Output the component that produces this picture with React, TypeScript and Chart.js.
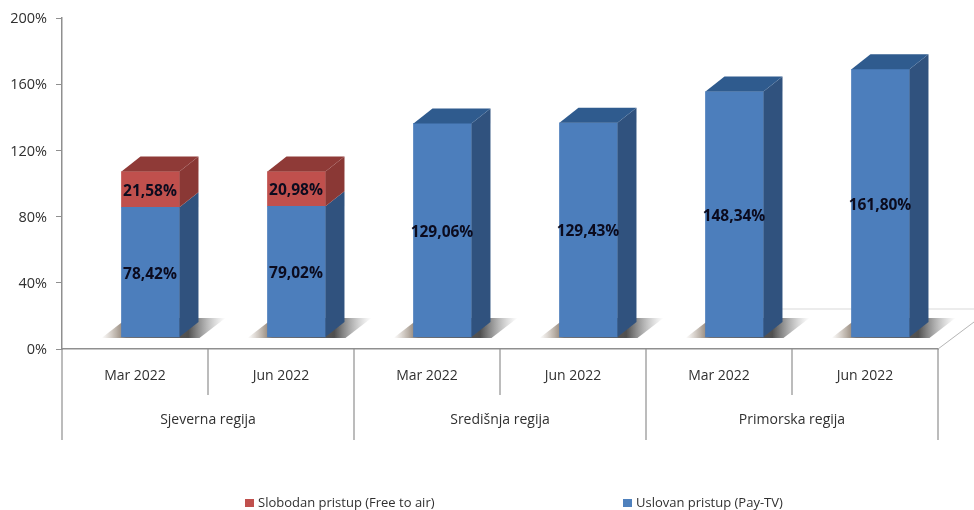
import React, { useEffect, useRef } from "react";
import { Chart, registerables } from "chart.js";

Chart.register(...registerables);

const months = ["Mar 2022", "Jun 2022", "Mar 2022", "Jun 2022", "Mar 2022", "Jun 2022"];
const regions = ["Sjeverna regija", "Središnja regija", "Primorska regija"];
const payTv = [78.42, 79.02, 129.06, 129.43, 148.34, 161.8];
const freeToAir = [21.58, 20.98, null, null, null, null];
const yTicks = [0, 40, 80, 120, 160, 200];
const payLabel = "Uslovan pristup (Pay-TV)";
const freeLabel = "Slobodan pristup (Free to air)";

const AXIS = "#8f8f8f";
const TEXT = "#303030";
const FONT = '"Open Sans", sans-serif';
const DX = 19;
const DY = -15;

const shades: Record<string, { top: string; side: string }> = {
  blue: { top: "#2f5b8e", side: "#30527e" },
  red: { top: "#8f3a37", side: "#8a3835" },
};

function poly(ctx: CanvasRenderingContext2D, pts: number[][], fill: string | CanvasGradient) {
  ctx.beginPath();
  pts.forEach(([x, y], i) => (i ? ctx.lineTo(x, y) : ctx.moveTo(x, y)));
  ctx.closePath();
  ctx.fillStyle = fill;
  ctx.fill();
}

const frame = {
  id: "frame",
  beforeDatasetsDraw(chart: any) {
    const { ctx, chartArea: a, scales } = chart;
    ctx.save();
    // floor of the 3D box
    ctx.strokeStyle = "#d9d9d9";
    ctx.lineWidth = 1;
    ctx.beginPath();
    ctx.moveTo(a.right - 160, a.bottom - 40);
    ctx.lineTo(974, a.bottom - 40);
    ctx.stroke();
    ctx.strokeStyle = "#b5b5b5";
    ctx.beginPath();
    ctx.moveTo(a.right, a.bottom);
    ctx.lineTo(974, a.bottom - 27);
    ctx.stroke();
    // floor shadows of the bars
    const meta = chart.getDatasetMeta(0);
    meta.data.forEach((bar: any) => {
      const l = bar.x - bar.width / 2;
      const r = bar.x + bar.width / 2;
      const b = bar.base;
      const g = ctx.createLinearGradient(l - 20, 0, r + 46, 0);
      g.addColorStop(0, "rgba(150,130,110,0)");
      g.addColorStop(0.2, "rgba(110,95,80,0.9)");
      g.addColorStop(0.7, "rgba(70,70,70,0.95)");
      g.addColorStop(1, "rgba(140,140,140,0)");
      poly(ctx, [[l - 20, b + 1], [l + 6, b - 19], [r + 46, b - 19], [r + 20, b + 1]], g);
    });
    // separators of the multi-level category axis
    const x = scales.x;
    const step = x.getPixelForValue(1) - x.getPixelForValue(0);
    ctx.strokeStyle = AXIS;
    ctx.lineWidth = 1.2;
    months.forEach((_, i) => {
      const px = x.getPixelForValue(i) - step / 2;
      ctx.beginPath();
      ctx.moveTo(px, a.bottom);
      ctx.lineTo(px, a.bottom + (i % 2 === 0 ? 91 : 46));
      ctx.stroke();
    });
    const end = x.getPixelForValue(months.length - 1) + step / 2;
    ctx.beginPath();
    ctx.moveTo(end, a.bottom);
    ctx.lineTo(end, a.bottom + 91);
    ctx.stroke();
    // region level of the axis
    ctx.fillStyle = TEXT;
    ctx.font = `14px ${FONT}`;
    ctx.textAlign = "center";
    ctx.textBaseline = "middle";
    regions.forEach((name, i) => {
      const cx = (x.getPixelForValue(i * 2) + x.getPixelForValue(i * 2 + 1)) / 2;
      ctx.fillText(name, cx, a.bottom + 71);
    });
    ctx.restore();
  },
  afterDatasetsDraw(chart: any) {
    const { ctx } = chart;
    ctx.save();
    // sides and tops of the 3D bars
    const count = chart.data.datasets.length;
    for (let d = 0; d < count; d++) {
      const key = d === 0 ? "blue" : "red";
      chart.getDatasetMeta(d).data.forEach((bar: any, i: number) => {
        const val = (chart.data.datasets[d].data[i] as any).y;
        if (val == null) return;
        const l = bar.x - bar.width / 2;
        const r = bar.x + bar.width / 2;
        poly(ctx, [[r, bar.base], [r + DX, bar.base + DY], [r + DX, bar.y + DY], [r, bar.y]], shades[key].side);
        const upper = chart.data.datasets[1 - d]?.data[i]?.y;
        if (d === 1 || upper == null) {
          poly(ctx, [[l, bar.y], [l + DX, bar.y + DY], [r + DX, bar.y + DY], [r, bar.y]], shades[key].top);
        }
      });
    }
    // value labels
    ctx.font = `bold 15.5px ${FONT}`;
    ctx.fillStyle = "#0b0b1e";
    ctx.textAlign = "center";
    ctx.textBaseline = "middle";
    for (let d = 0; d < count; d++) {
      chart.getDatasetMeta(d).data.forEach((bar: any, i: number) => {
        const val = (chart.data.datasets[d].data[i] as any).y;
        if (val == null) return;
        const txt = val.toFixed(2).replace(".", ",") + "%";
        ctx.fillText(txt, bar.x - 0.5, (bar.y + bar.base) / 2 + 2);
      });
    }
    // legend
    ctx.font = `13px ${FONT}`;
    ctx.textAlign = "left";
    const items = [
      { text: freeLabel, color: "#c0504d", x: 245 },
      { text: payLabel, color: "#4f81bd", x: 623 },
    ];
    items.forEach((it) => {
      ctx.fillStyle = it.color;
      ctx.fillRect(it.x, 499, 9, 8);
      ctx.fillStyle = TEXT;
      ctx.fillText(it.text, it.x + 13, 503);
    });
    ctx.restore();
  },
};

export default function App() {
  const ref = useRef<HTMLCanvasElement>(null);
  useEffect(() => {
    const chart = new Chart(ref.current!, {
      type: "bar",
      data: {
        labels: months,
        datasets: [
          {
            label: payLabel,
            data: payTv.map((y, x) => ({ x, y })) as any,
            backgroundColor: "#4c7ebc",
            xAxisID: "xBars",
            yAxisID: "yBars",
            barThickness: 58,
          },
          {
            label: freeLabel,
            data: freeToAir.map((y, x) => ({ x, y })) as any,
            backgroundColor: "#c0504d",
            xAxisID: "xBars",
            yAxisID: "yBars",
            barThickness: 58,
          },
        ],
      },
      plugins: [frame],
      options: {
        responsive: false,
        animation: false,
        layout: { padding: { left: 0, top: 18, right: 36, bottom: 0 } },
        plugins: { legend: { display: false }, tooltip: { enabled: false } },
        scales: {
          x: {
            type: "category",
            labels: months,
            offset: true,
            afterFit: (s: any) => { s.height = 161; },
            grid: { display: false },
            border: { display: true, color: AXIS, width: 1.5 },
            ticks: { color: TEXT, font: { family: FONT, size: 14 }, padding: 11, maxRotation: 0, autoSkip: false },
          },
          y: {
            min: 0,
            max: 200,
            afterFit: (s: any) => { s.width = 62; },
            afterBuildTicks: (s: any) => { s.ticks = yTicks.map((value) => ({ value })); },
            grid: { drawOnChartArea: false, color: AXIS, tickLength: 6 },
            border: { display: true, color: AXIS, width: 1.5 },
            ticks: { color: TEXT, font: { family: FONT, size: 14.5 }, padding: 9, labelOffset: 1, callback: (v: any) => `${v}%` },
          },
          xBars: { type: "linear", display: false, stacked: true, offset: false, min: -0.606, max: 5.394 },
          yBars: { type: "linear", display: false, stacked: true, min: -7.25, max: 192.75 },
        },
      } as any,
    });
    return () => chart.destroy();
  }, []);
  return (
    <div style={{ position: "fixed", left: 0, top: 0, width: 974, height: 510, background: "#fff" }}>
      <canvas ref={ref} width={974} height={510} style={{ display: "block" }} />
    </div>
  );
}
